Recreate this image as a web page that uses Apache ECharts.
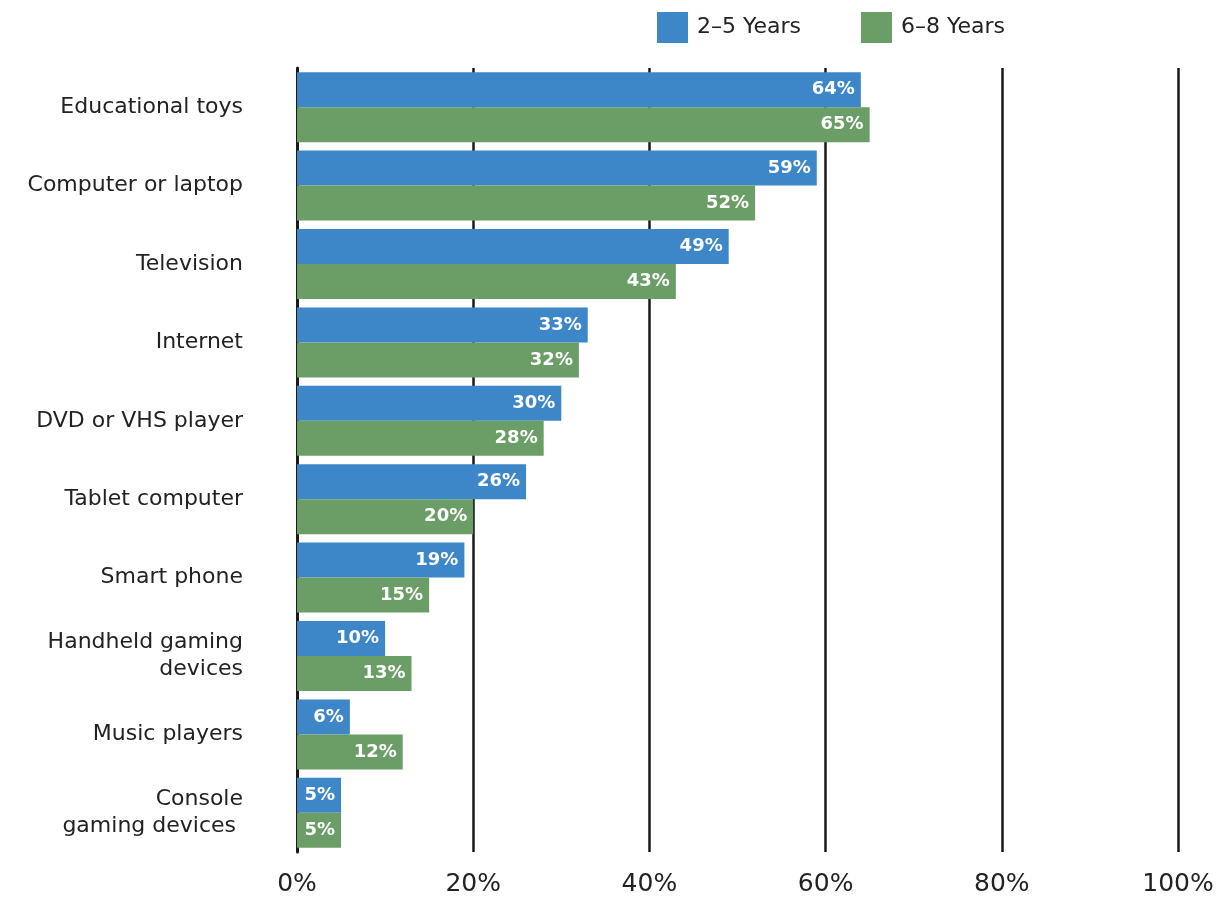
<!DOCTYPE html>
<html>
<head>
<meta charset="utf-8">
<script src="https://cdn.jsdelivr.net/npm/echarts@6/dist/echarts.min.js"></script>
<style>
  html, body { margin: 0; padding: 0; background: #fff; }
  #chart { width: 1222px; height: 901px; }
</style>
</head>
<body>
<div id="chart"></div>
<script>
// Devices used by children, share by age group
const categories = [
  'Educational toys',
  'Computer or laptop',
  'Television',
  'Internet',
  'DVD or VHS player',
  'Tablet computer',
  'Smart phone',
  'Handheld gaming\ndevices',
  'Music players',
  'Console\ngaming devices '
];
const years2to5 = [64, 59, 49, 33, 30, 26, 19, 10, 6, 5];
const years6to8 = [65, 52, 43, 32, 28, 20, 15, 13, 12, 5];
const seriesNames = ['2–5 Years', '6–8 Years'];
const xTicks = [0, 20, 40, 60, 80, 100];

const FONT = 'DejaVu Sans';
const chart = echarts.init(document.getElementById('chart'));

const barLabel = {
  show: true,
  position: 'insideRight',
  formatter: '{c}%',
  color: '#fff',
  fontWeight: 'bold',
  fontFamily: FONT,
  fontSize: 18,
  distance: 6
};

chart.setOption({
  animation: false,
  textStyle: { fontFamily: FONT },
  legend: {
    top: 7,
    left: 652,
    itemWidth: 31,
    itemHeight: 31,
    itemGap: 60,
    icon: 'rect',
    textStyle: { fontSize: 22, color: '#222', fontFamily: FONT, padding: [0, 0, 0, 4] },
    data: seriesNames
  },
  grid: { left: 297, right: 44, top: 68, bottom: 49, containLabel: false },
  xAxis: {
    type: 'value',
    min: xTicks[0],
    max: xTicks[xTicks.length - 1],
    interval: 20,
    axisLine: { show: false },
    axisTick: { show: false },
    splitLine: { show: true, lineStyle: { color: '#1a1a1a', width: 2.5 } },
    axisLabel: {
      formatter: '{value}%',
      fontSize: 25,
      color: '#222',
      margin: 20,
      fontFamily: FONT
    }
  },
  yAxis: {
    type: 'category',
    inverse: true,
    data: categories,
    axisLine: { show: true, lineStyle: { color: '#1a1a1a', width: 3 } },
    axisTick: { show: false },
    axisLabel: {
      fontSize: 22,
      color: '#222',
      margin: 54,
      lineHeight: 27,
      align: 'right',
      fontFamily: FONT
    }
  },
  series: [
    {
      name: seriesNames[0],
      type: 'bar',
      data: years2to5,
      barWidth: 35,
      barGap: '0%',
      itemStyle: { color: '#3d87c8' },
      label: barLabel
    },
    {
      name: seriesNames[1],
      type: 'bar',
      data: years6to8,
      barWidth: 35,
      barGap: '0%',
      itemStyle: { color: '#6b9e66' },
      label: barLabel
    }
  ]
});
</script>
</body>
</html>
